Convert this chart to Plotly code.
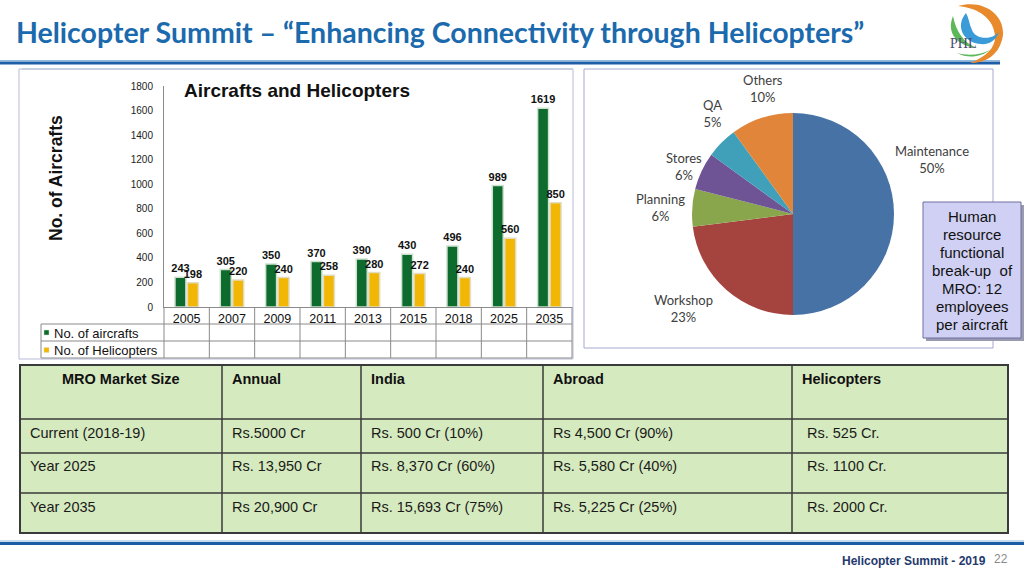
import plotly.graph_objects as go

W, H = 1024, 576
def px(x): return x / W
def py(y): return 1 - y / H

# ---------------- data ----------------
years = ["2005", "2007", "2009", "2011", "2013", "2015", "2018", "2025", "2035"]
aircrafts = [243, 305, 350, 370, 390, 430, 496, 989, 1619]
helicopters = [198, 220, 240, 258, 280, 272, 240, 560, 850]
y_ticks = [0, 200, 400, 600, 800, 1000, 1200, 1400, 1600, 1800]

pie_labels = ["Maintenance", "Workshop", "Planning", "Stores", "QA", "Others"]
pie_values = [50, 23, 6, 6, 5, 10]
pie_colors = ["#4672a6", "#a5433f", "#8aa64c", "#6e5495", "#41a0b9", "#e0853a"]

table_header = ["MRO Market Size", "Annual", "India", "Abroad", "Helicopters"]
table_rows = [
    ["Current (2018-19)", "Rs.5000 Cr", "Rs. 500 Cr (10%)", "Rs 4,500 Cr (90%)", "Rs. 525 Cr."],
    ["Year 2025", "Rs. 13,950 Cr", "Rs. 8,370 Cr (60%)", "Rs. 5,580 Cr (40%)", "Rs. 1100 Cr."],
    ["Year 2035", "Rs 20,900 Cr", "Rs. 15,693 Cr (75%)", "Rs. 5,225 Cr (25%)", "Rs. 2000 Cr."],
]
hr_note = ["Human", "resource", "functional", "break-up  of", "MRO: 12", "employees", "per aircraft"]

# ---------------- style ----------------
FONT = "Liberation Sans, Arial, sans-serif"
GREEN = "#0c6b2d"
YELLOW = "#f2b705"

fig = go.Figure()

fig.add_trace(go.Bar(
    x=years, y=aircrafts, name="No. of aircrafts",
    marker=dict(color=GREEN, line=dict(color="#cfe2cf", width=1.5)),
    text=aircrafts, textposition="outside", cliponaxis=False, constraintext="none",
    textfont=dict(family=FONT, size=11, color="#111", weight="bold"),
))
fig.add_trace(go.Bar(
    x=years, y=helicopters, name="No. of Helicopters",
    marker=dict(color=YELLOW, line=dict(color="#e2dcc2", width=1.5)),
    text=helicopters, textposition="outside", cliponaxis=False, constraintext="none",
    textfont=dict(family=FONT, size=11, color="#111", weight="bold"),
))

fig.add_trace(go.Pie(
    labels=pie_labels, values=pie_values, sort=False, direction="clockwise",
    rotation=0, marker=dict(colors=pie_colors, line=dict(width=0)),
    textinfo="none", hoverinfo="label+percent", showlegend=False,
    domain=dict(x=[px(692), px(894)], y=[py(315), py(113)]),
))

shapes = []
ann = []

def line(x0, y0, x1, y1, color, width=1):
    shapes.append(dict(type="line", xref="paper", yref="paper", x0=px(x0), y0=py(y0),
                       x1=px(x1), y1=py(y1), line=dict(color=color, width=width)))

def rect(x0, y0, x1, y1, fill=None, color=None, width=1, layer="below"):
    d = dict(type="rect", xref="paper", yref="paper", x0=px(x0), y0=py(y0), x1=px(x1), y1=py(y1),
             line=dict(color=color or "rgba(0,0,0,0)", width=width if color else 0), layer=layer)
    if fill:
        d["fillcolor"] = fill
    shapes.append(d)

def text(x, y, s, size=12, color="#111", xanchor="center", bold=False, family=FONT, angle=0):
    ann.append(dict(xref="paper", yref="paper", x=px(x), y=py(y), text=s, showarrow=False,
                    xanchor=xanchor, yanchor="middle", textangle=angle,
                    font=dict(family=family, size=size, color=color, weight="bold" if bold else "normal")))

def path(pts_str, fill):
    out = ""
    for cmd, pts in pts_str:
        out += cmd + " " + " ".join(f"{px(x):.5f},{py(y):.5f}" for x, y in pts) + " "
    out += "Z"
    shapes.append(dict(type="path", xref="paper", yref="paper", path=out, fillcolor=fill,
                       line=dict(width=0), layer="above"))

# ---- header ----
text(14, 32, "Helicopter Summit – “Enhancing Connectivity through Helicopters”", size=28.5,
     color="#1b6aad", xanchor="left", bold=True, family="Lato, Liberation Sans, sans-serif")
line(0, 60.5, 1000, 60.5, "#8fb8df", 1)
line(0, 63, 1000, 63, "#1c5ea6", 3)

# logo
path([("M", [(958, 6)]), ("C", [(988, -2), (1008, 20), (1002, 40)]),
      ("C", [(998, 55), (986, 63), (970, 63)]), ("C", [(986, 57), (996, 47), (995, 36)]),
      ("C", [(994, 20), (980, 8), (958, 6)])], "#e8892b")
path([("M", [(966, 13)]), ("C", [(955, 26), (963, 42), (980, 44)]),
      ("C", [(990, 45), (996, 40), (999, 32)]), ("C", [(991, 41), (975, 39), (972, 30)]),
      ("C", [(969, 24), (969, 18), (966, 13)])], "#3b9bd9")
path([("M", [(953, 16)]), ("C", [(946, 33), (957, 46), (977, 48)]),
      ("C", [(964, 43), (956, 32), (953, 16)])], "#5db85a")
path([("M", [(957, 53)]), ("C", [(968, 59), (981, 57), (990, 50)]),
      ("C", [(981, 55), (968, 56), (957, 53)])], "#5db85a")
text(963, 43, "PHL", size=14, color="#4a4a70", family="Liberation Serif, serif")

# ---- bar chart panel ----
rect(19, 69, 573, 359, color="#b7bad9", width=1)
line(22, 69, 573, 69, "#c6d0e0", 2)
text(182, 90, "Aircrafts and Helicopters", size=19, xanchor="left", bold=True)
text(56, 178, "No. of Aircrafts", size=17.5, bold=True, angle=-90)

# data table below the bars
TL, AX, TR = 41, 164, 572
step = (TR - AX) / len(years)
for yy in (324, 341, 358):
    line(TL, yy, TR, yy, "#8a8a8a", 1)
line(TL, 324, TL, 358, "#8a8a8a", 1)
for k in range(len(years) + 1):
    line(AX + k * step, 307, AX + k * step, 358, "#8a8a8a", 1)
for i, yr in enumerate(years):
    ann.append(dict(xref="x", yref="paper", x=yr, y=py(333), text=str(aircrafts[i]), showarrow=False,
                    font=dict(family=FONT, size=12.5, color="#111")))
    ann.append(dict(xref="x", yref="paper", x=yr, y=py(350.5), text=str(helicopters[i]), showarrow=False,
                    font=dict(family=FONT, size=12.5, color="#111")))
rect(44, 330, 49, 335, fill=GREEN, color="#cfe2cf", width=0.5, layer="above")
rect(44, 347.5, 49, 352.5, fill=YELLOW, color="#e2dcc2", width=0.5, layer="above")
text(52, 333, "No. of aircrafts", size=13, xanchor="left")
text(52, 350.5, "No. of Helicopters", size=13, xanchor="left")

# ---- pie panel ----
rect(584, 69, 993, 348, color="#a9a9d2", width=1)
pie_label_pos = [(932, 159), (683, 308), (660, 207), (684, 166), (712, 114), (763, 88)]
for lab, val, (lx, ly) in zip(pie_labels, pie_values, pie_label_pos):
    text(lx, ly, f"{lab}<br>{val}%", size=13, color="#404040",
         family="Lato, Open Sans, sans-serif")

# note box
rect(926, 205, 1024, 341, fill="#9a9ab0", layer="above")
rect(923, 202, 1021, 338, fill="#cfd0f4", color="#6f6f9f", width=1, layer="above")
for k, ln in enumerate(hr_note):
    text(972, 216 + 18 * k, ln, size=15, color="#111")

# ---- market table ----
cols = [20, 222, 361, 543, 792, 1008]
rows_y = [365, 419, 453, 493, 533]
rect(cols[0], rows_y[0], cols[-1], rows_y[-1], fill="#d6eabf", color="#3a3a3a", width=2)
for yy in rows_y[1:-1]:
    line(cols[0], yy, cols[-1], yy, "#3a3a3a", 1.5)
for xx in cols[1:-1]:
    line(xx, rows_y[0], xx, rows_y[-1], "#3a3a3a", 1.5)
header_y = 379
for j, h in enumerate(table_header):
    if j == 0:
        text((cols[0] + cols[1]) / 2, header_y, h, size=14.5, bold=True)
    else:
        text(cols[j] + 8, header_y, h, size=14.5, bold=True, xanchor="left")
body_y = [433, 466, 507]
for r, row in enumerate(table_rows):
    for j, cell in enumerate(row):
        off = 8 if j < 4 else 13
        text(cols[j] + off, body_y[r], cell, size=14.5, color="#1a1a1a", xanchor="left")

# ---- footer ----
line(0, 541, 1024, 541, "#8fb8df", 1)
line(0, 543.5, 1024, 543.5, "#1c5ea6", 3)
text(988, 561, "Helicopter Summit - 2019", size=12, color="#1f3a6e", xanchor="right", bold=True)
text(1001, 559, "22", size=12, color="#8a8a8a")

fig.update_layout(
    width=W, height=H, margin=dict(l=0, r=0, t=0, b=0, pad=0, autoexpand=False),
    paper_bgcolor="white", plot_bgcolor="rgba(0,0,0,0)",
    showlegend=False, barmode="group", bargap=0.45, bargroupgap=0.12,
    shapes=shapes, annotations=ann,
    xaxis=dict(domain=[px(AX), px(TR)], type="category", range=[-0.5, len(years) - 0.5],
               showline=True, linecolor="#8a8a8a", linewidth=1, ticks="", showgrid=False,
               automargin=False,
               tickfont=dict(family=FONT, size=12.5, color="#111"), fixedrange=True),
    yaxis=dict(domain=[py(307), py(86)], range=[0, 1800], tickvals=y_ticks,
               showline=True, linecolor="#8a8a8a", linewidth=1, ticks="", showgrid=False,
               zeroline=False, ticklabelstandoff=8, automargin=False,
               tickfont=dict(family=FONT, size=10, color="#222"), fixedrange=True),
)

fig.write_html("out.html", config={"displayModeBar": False},
               post_script="document.body.style.margin='0';document.body.style.overflow='hidden';")
